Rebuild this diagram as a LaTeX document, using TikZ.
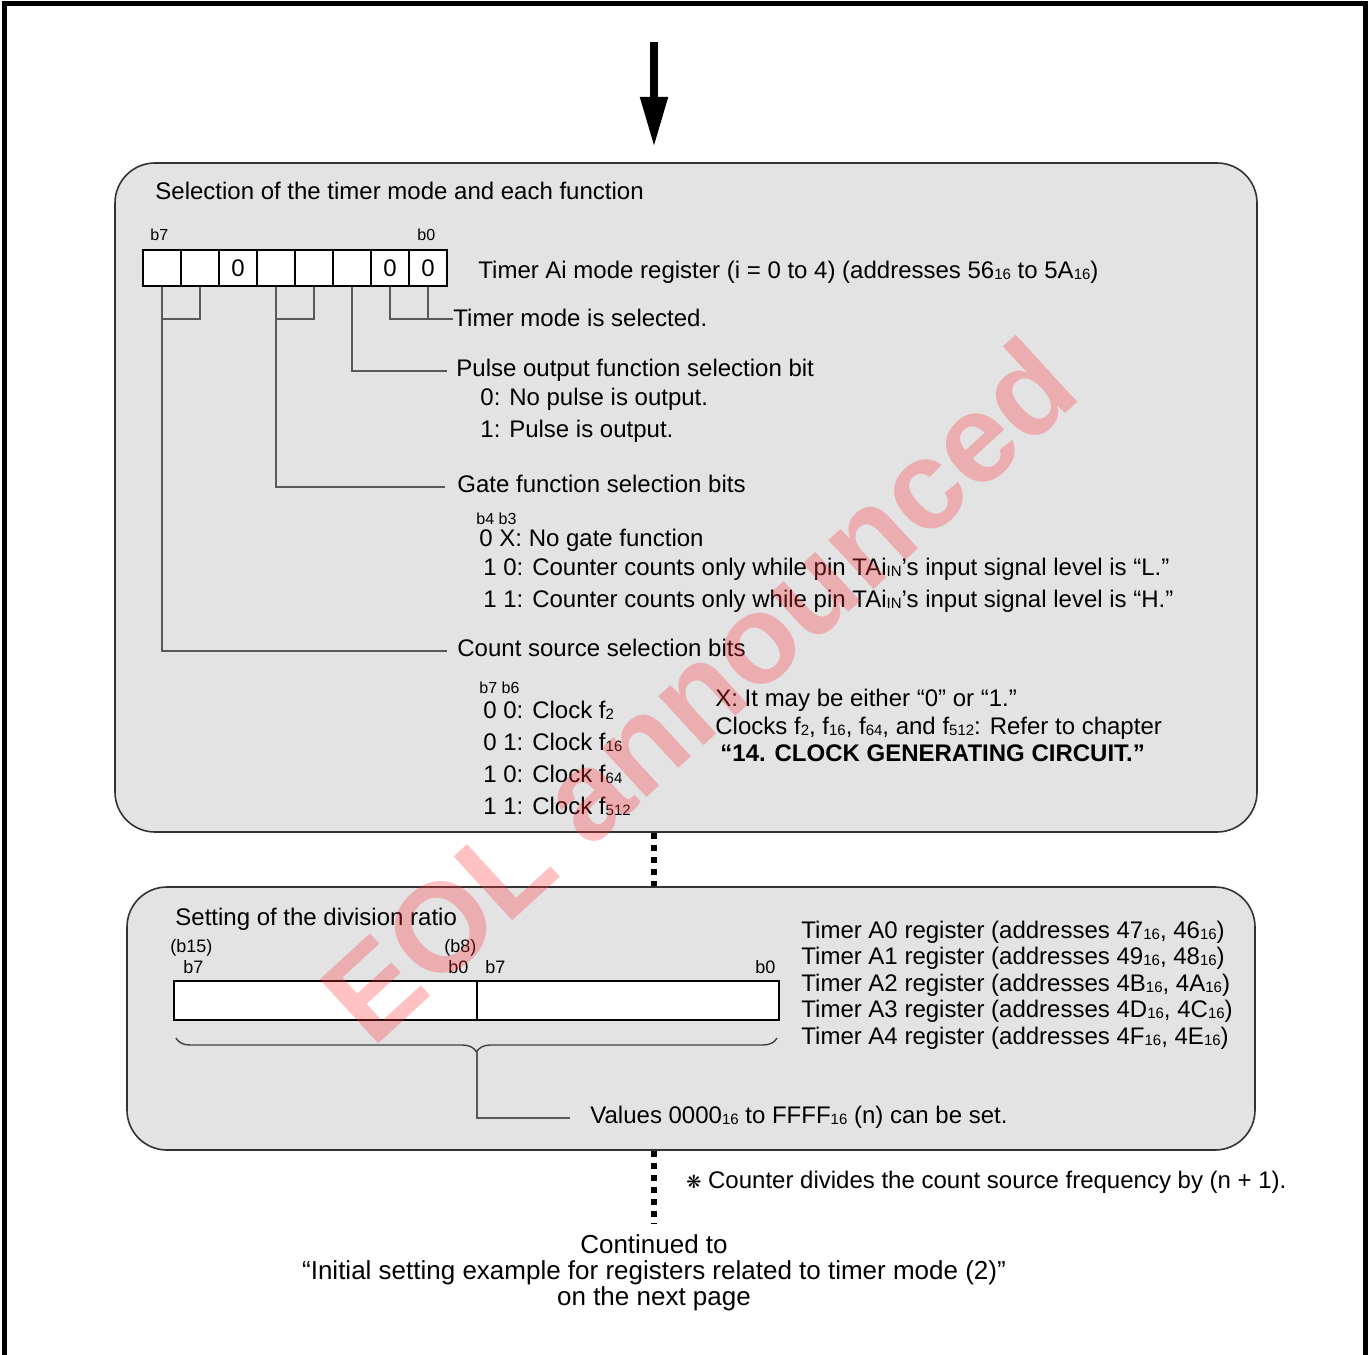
\documentclass[tikz,border=0pt]{standalone}
\usepackage{fontspec}
\setmainfont{Liberation Sans}
\newfontfamily\dejavu{DejaVu Sans}
\usetikzlibrary{arrows.meta,decorations.pathreplacing}
\newcommand\hx[1]{\raisebox{-0.12ex}{\fontsize{7.5}{8}\selectfont #1}}
\definecolor{panelgray}{RGB}{227,227,227}
\definecolor{wmred}{RGB}{255,50,55}
\tikzset{
  txt/.style={anchor=base west, inner sep=0pt, text height=0.72em, text depth=0.21em, font=\fontsize{12}{14}\selectfont},
  ctxt/.style={anchor=base, inner sep=0pt, font=\fontsize{13}{15}\selectfont},
  sm/.style={anchor=base west, inner sep=0pt, font=\fontsize{8}{9}\selectfont},
  smb/.style={anchor=base west, inner sep=0pt, font=\fontsize{9}{10}\selectfont},
  conn/.style={draw=black!65, line width=0.9pt},
  cell/.style={draw=black, line width=1.3pt, fill=white, minimum width=19pt, minimum height=18pt, inner sep=0pt, font=\fontsize{12}{14}\selectfont},
  regbox/.style={draw=black, line width=1.3pt, fill=white, minimum height=19.5pt, inner sep=0pt},
  panel/.style={draw=black!80, line width=0.8pt, fill=panelgray, rounded corners=20pt, inner sep=0pt},
  dots/.style={line width=3pt, dash pattern=on 3pt off 3pt},
}
\begin{document}
\begin{tikzpicture}[x=0.5pt,y=-0.5pt]
\useasboundingbox (0,0) rectangle (1370,1354);
\fill[white] (0,0) rectangle (1370,1354);
% outer frame
\draw[line width=2.5pt] (4,1360) -- (4,4) -- (1365,4) -- (1365,1360);

% panels
\node[panel, minimum width=571pt, minimum height=334.5pt] (p1) at (686,497.5) {};
\node[panel, minimum width=564pt, minimum height=131.5pt] (p2) at (691,1018.5) {};

% top arrow
\coordinate (ax) at (654,0);
\coordinate (atop) at (654,42);
\coordinate (atip) at (654,147);
\draw[line width=4pt, -{Triangle[length=25pt,width=13pt]}] (atop) -- (atip);

% dotted connectors
\draw[dots] (ax |- p1.south) -- (ax |- p2.north);

% ---------- panel 1 ----------
\node[txt] (t1) at (155,199) {Selection of the timer mode and each function};
\node[sm] (lb7) at (150,240) {b7};
\node[sm] (lb0) at (417,240) {b0};
\node[cell] (c7) at (162,268) {};
\node[cell] (c6) at (200,268) {};
\node[cell] (c5) at (238,268) {0};
\node[cell] (c4) at (276,268) {};
\node[cell] (c3) at (314,268) {};
\node[cell] (c2) at (352,268) {};
\node[cell] (c1) at (390,268) {0};
\node[cell] (c0) at (428,268) {0};
\node[txt] (regname) at (478,278) {Timer Ai mode register (i = 0 to 4) (addresses 56\hx{16} to 5A\hx{16})};

\node[txt] (tmode) at (453,326) {Timer mode is selected.};
\node[txt] (pulse) at (456,376) {Pulse output function selection bit};
\node[txt] (pulse0) at (480,405) {0: No pulse is output.};
\node[txt] (pulse1) at (480,437) {1: Pulse is output.};
\node[txt] (gate) at (457,492) {Gate function selection bits};
\node[sm] (gatehd) at (476,524) {b4 b3};
\node[txt] (gate0) at (479,546) {0 X: No gate function};
\node[txt] (gate1) at (483,575) {1 0: Counter counts only while pin TAi\hx{IN}’s input signal level is “L.”};
\node[txt] (gate2) at (483,607) {1 1: Counter counts only while pin TAi\hx{IN}’s input signal level is “H.”};
\node[txt] (cnt) at (457,656) {Count source selection bits};
\node[sm] (cnthd) at (479,693) {b7 b6};
\node[txt] (cnt0) at (483,718) {0 0: Clock f\hx{2}};
\node[txt] (cnt1) at (483,750) {0 1: Clock f\hx{16}};
\node[txt] (cnt2) at (483,782) {1 0: Clock f\hx{64}};
\node[txt] (cnt3) at (483,814) {1 1: Clock f\hx{512}};
\node[txt] (note1) at (715,706) {X: It may be either “0” or “1.”};
\node[txt] (note2) at (715,734) {Clocks f\hx{2}, f\hx{16}, f\hx{64}, and f\hx{512}: Refer to chapter};
\node[txt] (note3) at (720,761) {\bfseries “14. CLOCK GENERATING CIRCUIT.”};

% bit connectors
\coordinate (j01) at (428,319);
\draw[conn] (c1.south) |- (j01) -- (c0.south);
\draw[conn] (j01) -- (tmode.west |- j01);
\draw[conn, shorten >=4.5pt] (c2.south) |- (pulse.west);
\coordinate (j34) at (314,319);
\draw[conn] (c3.south) -- (j34) -- (c4.south |- j34);
\draw[conn, shorten >=6pt] (c4.south) |- (gate.west);
\coordinate (j67) at (200,319);
\draw[conn] (c6.south) -- (j67) -- (c7.south |- j67);
\draw[conn, shorten >=5pt] (c7.south) |- (cnt.west);

% ---------- panel 2 ----------
\node[txt] (t2) at (175,925) {Setting of the division ratio};
\node[smb] (h15) at (170,952) {(b15)};
\node[smb] (h7a) at (183,973) {b7};
\node[smb] (h8) at (444,952) {(b8)};
\node[smb] (h0a) at (448,973) {b0};
\node[smb] (h7b) at (485,973) {b7};
\node[smb] (h0b) at (755,973) {b0};
\node[regbox, minimum width=151.5pt] (r2a) at (325.5,1000.5) {};
\node[regbox, minimum width=151pt] (r2b) at (628,1000.5) {};
\node[txt] (ta0) at (801,938) {Timer A0 register (addresses 47\hx{16}, 46\hx{16})};
\node[txt] (ta1) at (801,964) {Timer A1 register (addresses 49\hx{16}, 48\hx{16})};
\node[txt] (ta2) at (801,991) {Timer A2 register (addresses 4B\hx{16}, 4A\hx{16})};
\node[txt] (ta3) at (801,1017) {Timer A3 register (addresses 4D\hx{16}, 4C\hx{16})};
\node[txt] (ta4) at (801,1044) {Timer A4 register (addresses 4F\hx{16}, 4E\hx{16})};
\coordinate (bl) at (176,1038);
\coordinate (br) at (777,1038);
\coordinate (btip) at (477,1052);
\draw[black!75, line width=0.7pt, decorate, decoration={brace, mirror, amplitude=7pt}] (bl) -- (br);
\node[txt] (vals) at (590,1123) {Values 0000\hx{16} to FFFF\hx{16} (n) can be set.};
\draw[conn, shorten >=10pt] (btip) |- (vals.west);

% ---------- below ----------
\node[txt] (ctr) at (686,1188) {{\dejavu\fontsize{9}{10}\selectfont ❋} Counter divides the count source frequency by (n + 1).};
\node[ctxt] (cont1) at (654,1253) {Continued to};
\node[ctxt] (cont2) at (654,1279) {“Initial setting example for registers related to timer mode (2)”};
\node[ctxt] (cont3) at (654,1305) {on the next page};
\coordinate (dend) at (654,1223);
\draw[dots] (ax |- p2.south) -- (dend);

% watermark
\node[rotate=42.5, text=wmred, opacity=0.3, inner sep=0pt, font=\bfseries\fontsize{63}{70}\selectfont] (wm) at (698,690) {EOL announced};
\end{tikzpicture}
\end{document}
